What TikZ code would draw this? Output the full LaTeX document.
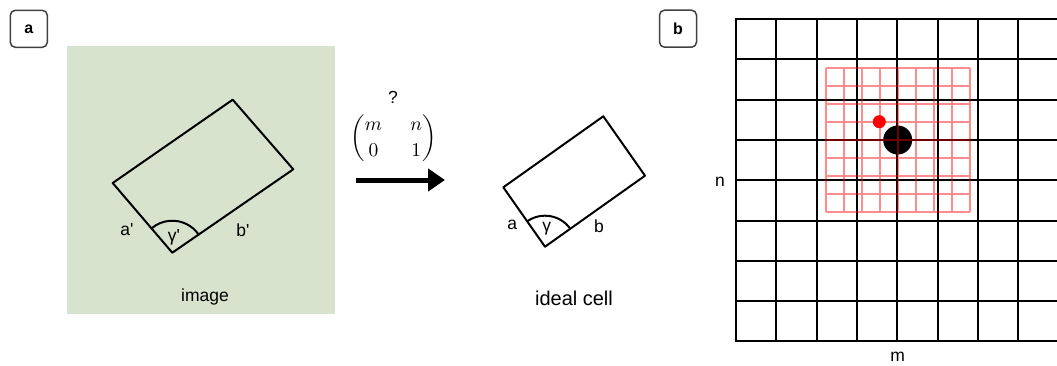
\RequirePackage{fix-cm}
\documentclass[tikz,border=0pt]{standalone}
\usepackage[no-math]{fontspec}
\setmainfont{Liberation Sans}
\usepackage{amsmath}
\usepackage{graphicx}
\usetikzlibrary{arrows.meta,angles}

\definecolor{imagegreen}{HTML}{D8E3CD}

\begin{document}
\begin{tikzpicture}[
  x=1pt,
  y=-1pt,
  line cap=round,
  line join=round,
  font=\fontsize{17.5}{20}\selectfont,
  panellabel/.style={
    draw=black!75,
    line width=1.5pt,
    rounded corners=5pt,
    minimum size=37pt,
    inner sep=0pt,
    font=\fontsize{16}{19}\selectfont\bfseries
  },
  cell/.style={line width=2pt},
  gridline/.style={line width=2pt, line cap=butt},
  redgrid/.style={red, draw opacity=0.45, line width=2pt, line cap=butt},
  lbl/.style={inner sep=0pt}
]
  \clip (0,0) rectangle (1057,365);

  % Panel a
  \node[panellabel] (la) at (28.8,28.8) {a};
  \fill[imagegreen] (66.7,45.7) rectangle (335,314);

  % Measured cell
  \coordinate (A1) at (112.7,183);
  \coordinate (A2) at (232.7,99.7);
  \coordinate (A3) at (293.3,169.3);
  \coordinate (A4) at (172.3,252.7);
  \draw[cell] (A1) -- (A2) -- (A3) -- (A4) -- cycle;
  \pic[draw, cell, angle radius=32pt] {angle=A3--A4--A1};

  \node[lbl] (ap) at (127,230) {a\textquotesingle};
  \node[lbl] (gp) at (174,237) {γ\textquotesingle};
  \node[lbl] (bp) at (243,230) {b\textquotesingle};
  \node[lbl] (imgtxt) at (205,297) {image};

  % Transformation
  \coordinate (arrs) at (356,180);
  \coordinate (arre) at (445,180);
  \draw[line width=5pt, line cap=butt,
    -{Triangle[length=17pt,width=22pt]}] (arrs) -- (arre);
  \node[lbl] (q) at (393,97) {?};
  \node[lbl] (mat) at (393.5,138) {\scalebox{1.95}{\fontsize{10}{13.3}\selectfont
    \setlength{\arraycolsep}{7.3pt}%
    $\begin{pmatrix} m & n\\ 0 & 1 \end{pmatrix}$}};

  % Ideal cell
  \coordinate (B1) at (503.3,187.3);
  \coordinate (B2) at (603.3,116.3);
  \coordinate (B3) at (645,175.7);
  \coordinate (B4) at (545,246.7);
  \draw[cell] (B1) -- (B2) -- (B3) -- (B4) -- cycle;
  \pic[draw, cell, angle radius=31pt] {angle=B3--B4--B1};

  \node[lbl] (ai) at (512.3,225) {a};
  \node[lbl] (gi) at (546.7,229) {γ};
  \node[lbl] (bi) at (599,226) {b};
  \node[lbl, font=\fontsize{20}{24}\selectfont] (celltxt) at (574,298) {ideal cell};

  % Panel b
  \node[panellabel] (lb) at (678,28.7) {b};

  \def\gx{736}
  \def\gy{19}
  \def\gs{40.3}
  \foreach \i in {0,...,8} {
    \draw[gridline] (\gx+\i*\gs,\gy-1) -- (\gx+\i*\gs,\gy+8*\gs+1);
    \draw[gridline] (\gx-1,\gy+\i*\gs) -- (\gx+8*\gs+1,\gy+\i*\gs);
  }

  \fill (897.7,140) circle[radius=14.5pt];

  \def\rx{825.7}
  \def\ry{68}
  \def\rs{18}
  \draw[redgrid]
    \foreach \j in {0,...,8} {
      (\rx+\j*\rs,\ry) -- (\rx+\j*\rs,\ry+8*\rs)
      (\rx,\ry+\j*\rs) -- (\rx+8*\rs,\ry+\j*\rs)
    };

  \fill[red] (879.3,121.7) circle[radius=6.5pt];

  \node[lbl] (nlbl) at (720,182) {n};
  \node[lbl] (mlbl) at (897.7,357) {m};
\end{tikzpicture}
\end{document}
